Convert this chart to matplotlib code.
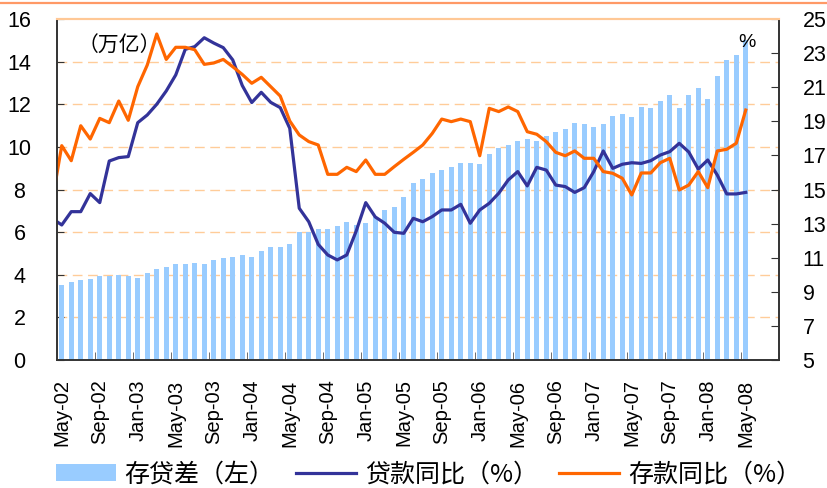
import numpy as np
import matplotlib
matplotlib.use('Agg')
import matplotlib.pyplot as plt
from matplotlib.lines import Line2D

plt.rcParams['font.family'] = ['Liberation Sans', 'Noto Sans CJK SC']

# tick labels every 4 months, May-02 .. May-08 (axis runs on to Aug-08)
tick_labels = ['May-02', 'Sep-02', 'Jan-03', 'May-03', 'Sep-03', 'Jan-04', 'May-04',
               'Sep-04', 'Jan-05', 'May-05', 'Sep-05', 'Jan-06', 'May-06', 'Sep-06',
               'Jan-07', 'May-07', 'Sep-07', 'Jan-08', 'May-08']
n_months = 76

# 存贷差 (万亿), May-02 .. May-08
gap = [3.52, 3.66, 3.75, 3.80, 3.94, 3.94, 3.99, 3.94, 3.85, 4.09, 4.27, 4.36,
       4.50, 4.50, 4.55, 4.50, 4.69, 4.79, 4.83, 4.93, 4.83, 5.11, 5.30, 5.30,
       5.44, 6.00, 6.00, 6.14, 6.14, 6.29, 6.47, 6.33, 6.43, 6.71, 7.04, 7.18,
       7.65, 8.31, 8.49, 8.77, 8.91, 9.05, 9.24, 9.24, 9.20, 9.67, 9.95, 10.09,
       10.28, 10.37, 10.28, 10.51, 10.70, 10.84, 11.12, 11.07, 10.93, 11.07, 11.45, 11.54,
       11.40, 11.87, 11.82, 12.15, 12.43, 11.82, 12.43, 12.76, 12.25, 13.33, 14.08, 14.31,
       15.00]

# 贷款同比 / 存款同比 (%), Apr-02 .. May-08
loan = [13.3, 12.92, 13.70, 13.70, 14.76, 14.23, 16.67, 16.87, 16.93, 18.92, 19.37, 20.0, 20.78,
        21.72, 23.22, 23.38, 23.9, 23.59, 23.32, 22.6, 21.1, 20.1, 20.7, 20.11, 19.8,
        18.59, 13.9, 13.11, 11.78, 11.16, 10.87, 11.16, 12.57, 14.23, 13.39, 13.02, 12.49,
        12.43, 13.31, 13.11, 13.41, 13.8, 13.8, 14.13, 13.02, 13.8, 14.19, 14.78, 15.56,
        16.05, 15.21, 16.3, 16.14, 15.26, 15.17, 14.83, 15.11, 16.05, 17.26, 16.24, 16.48,
        16.57, 16.53, 16.69, 17.02, 17.22, 17.71, 17.2, 16.2, 16.73, 15.85, 14.74, 14.74,
        14.83]
deposit = [14.33, 17.57, 16.69, 18.74, 17.96, 19.17, 18.92, 20.19, 19.06, 21.03, 22.30, 24.12, 22.63,
           23.34, 23.34, 23.2, 22.34, 22.42, 22.63, 22.2, 21.75, 21.23, 21.58, 21.03, 20.48,
           19.02, 18.2, 17.81, 17.61, 15.89, 15.89, 16.3, 16.05, 16.73, 15.89, 15.89, 16.34,
           16.77, 17.18, 17.61, 18.29, 19.13, 18.98, 19.13, 18.98, 16.98, 19.76, 19.57, 19.84,
           19.57, 18.39, 18.24, 17.81, 17.18, 16.98, 17.26, 16.83, 16.83, 16.05, 15.95, 15.66,
           14.68, 15.97, 15.97, 16.57, 16.83, 14.97, 15.26, 16.05, 15.11, 17.26, 17.36, 17.71,
           19.66]

x_bar = np.arange(len(gap))
x_line = np.arange(len(loan)) - 1

fig = plt.figure(figsize=(8.27, 4.88), dpi=100)
ax = fig.add_axes([57/827, 1-360/488, 722/827, 341/488])
ax2 = ax.twinx()

bars = ax.bar(x_bar, gap, width=0.55, color='#99CCFF', zorder=2)
l1, = ax2.plot(x_line, loan, color='#333399', lw=2.3)
l2, = ax2.plot(x_line, deposit, color='#FF6600', lw=2.3)

ax.set_xlim(-0.5, n_months - 0.5)
ax.set_ylim(0, 16)
ax2.set_ylim(5, 25)
ax.set_yticks(range(0, 17, 2))
ax2.set_yticks(range(5, 26, 2))
for y in range(2, 16, 2):
    ax.axhline(y, color='#FFCC99', lw=1, ls=(0, (7, 4)), zorder=1)

ax.set_xticks(np.arange(0, len(gap), 4))
ax.set_xticklabels(tick_labels, rotation=90, fontsize=14.5)
ax.set_xticks(np.arange(3.5, n_months, 4), minor=True)
ax.tick_params(axis='x', which='major', length=0, pad=14)
ax.tick_params(axis='x', which='minor', direction='in', length=6, color='#555555')
ax.tick_params(axis='y', direction='in', length=5, color='#333333', labelsize=15.5, pad=27)
for t in ax.get_yticklabels():
    t.set_horizontalalignment('center')
ax2.tick_params(axis='y', direction='in', length=6, color='#333333', labelsize=15.5, pad=17)

for a in (ax, ax2):
    for s in ('left', 'right', 'bottom'):
        a.spines[s].set_color('#333333')
        a.spines[s].set_linewidth(1.2)
    a.spines['top'].set_color('#FFC896')
    a.spines['top'].set_linewidth(1.5)

ax.text(0.028, 0.92, '（万亿）', transform=ax.transAxes, fontsize=15,
        family=['Noto Sans CJK SC'], va='center', ha='left')
ax.text(0.955, 0.93, '%', transform=ax.transAxes, fontsize=14, va='center', ha='center')

fig.add_artist(Line2D([0, 1], [1-2.7/488, 1-2.7/488], transform=fig.transFigure,
                      color='#FF9966', lw=1.6))

fig.legend([bars, l1, l2], ['存贷差（左）', '贷款同比（%）', '存款同比（%）'],
           loc='center', bbox_to_anchor=(0.518, 0.028), ncol=3, frameon=False,
           prop={'family': ['Noto Sans CJK SC'], 'size': 18},
           handlelength=2.4, handletextpad=0.35, columnspacing=0.85)

fig.savefig('out.png', dpi=100)
